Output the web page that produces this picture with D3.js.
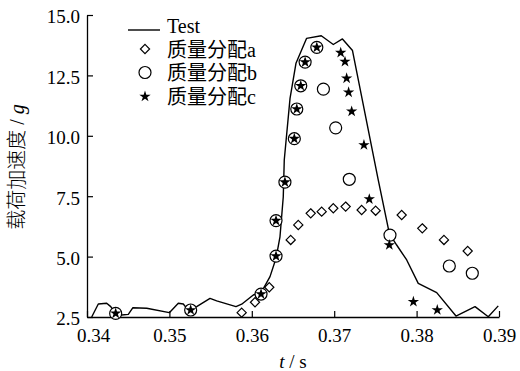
<!DOCTYPE html>
<html>
<head>
<meta charset="utf-8">
<script src="https://cdn.jsdelivr.net/npm/d3@7"></script>
<style>
  html, body { margin: 0; padding: 0; background: #fff; }
  svg { display: block; }
  text { fill: #000; }
</style>
</head>
<body>
<svg id="chart" width="520" height="371"></svg>
<script>
// Measured load acceleration (Test) over time
const testT = [0.34057, 0.34137, 0.34239, 0.34288, 0.34348, 0.34421, 0.34501, 0.34555, 0.34725, 0.34999,
  0.35108, 0.35169, 0.35201, 0.35258, 0.35331, 0.35493, 0.35574, 0.35808, 0.35877, 0.36018,
  0.36120, 0.36221, 0.36294, 0.36342, 0.36382, 0.36394, 0.36464, 0.36536, 0.36664, 0.36843,
  0.36989, 0.37100, 0.37222, 0.37535, 0.37669, 0.37758, 0.37880, 0.38020, 0.38244, 0.38478,
  0.38709, 0.38870, 0.38991];
const testG = [2.50, 3.04, 3.07, 2.93, 2.65, 2.58, 2.61, 2.88, 2.86, 2.68,
  3.07, 3.04, 2.90, 2.79, 2.93, 3.27, 3.17, 2.93, 3.03, 3.41,
  3.55, 4.17, 4.93, 5.82, 7.48, 9.00, 11.55, 13.00, 14.03, 14.14,
  13.78, 14.01, 13.53, 8.17, 5.96, 5.48, 4.86, 3.89, 3.51, 2.54,
  2.93, 2.51, 2.96];

// Mass distribution a
const aT = [0.35877, 0.36039, 0.36212, 0.36472, 0.36564, 0.36715, 0.36848, 0.36989, 0.37139, 0.37333,
  0.37503, 0.37819, 0.38069, 0.38332, 0.38620];
const aG = [2.68, 3.11, 3.73, 5.69, 6.31, 6.79, 6.86, 7.00, 7.07, 6.93,
  6.90, 6.72, 6.17, 5.69, 5.23];

// Mass distribution b
const bT = [0.34348, 0.35258, 0.36112, 0.36294, 0.36294, 0.36402, 0.36516, 0.36546, 0.36594, 0.36647,
  0.36789, 0.36869, 0.37018, 0.37183, 0.37677, 0.38397, 0.38676];
const bG = [2.65, 2.79, 3.45, 5.02, 6.49, 8.08, 9.88, 11.11, 12.07, 13.05,
  13.66, 11.93, 10.33, 8.20, 5.89, 4.61, 4.31];

// Mass distribution c
const cT = [0.34348, 0.35258, 0.36112, 0.36294, 0.36294, 0.36402, 0.36516, 0.36546, 0.36594, 0.36647,
  0.36789, 0.37079, 0.37131, 0.37151, 0.37175, 0.37212, 0.37361, 0.37426, 0.37669, 0.37961, 0.38251];
const cG = [2.65, 2.79, 3.45, 5.02, 6.49, 8.08, 9.88, 11.11, 12.07, 13.05,
  13.66, 13.44, 13.07, 12.38, 11.80, 11.01, 9.62, 7.38, 5.48, 3.13, 2.79];

const xTicks = [0.34, 0.35, 0.36, 0.37, 0.38, 0.39];
const yTicks = [2.5, 5.0, 7.5, 10.0, 12.5, 15.0];
const legendLabels = ["Test", "质量分配a", "质量分配b", "质量分配c"];

const latin = "'Liberation Serif', 'Times New Roman', serif";
const mixed = "'Liberation Serif', 'Noto Sans CJK SC', serif";

const svg = d3.select("#chart");
const x = d3.scaleLinear().domain([0.34, 0.39]).range([87, 499]);
const y = d3.scaleLinear().domain([2.5, 15]).range([317, 15]);

// Axes with inward ticks
const xAxis = d3.axisBottom(x).tickValues(xTicks).tickFormat(d3.format(".2f"))
  .tickSizeInner(-6).tickSizeOuter(0).tickPadding(12);
const yAxis = d3.axisLeft(y).tickValues(yTicks).tickFormat(d3.format(".1f"))
  .tickSizeInner(-6).tickSizeOuter(0).tickPadding(7);

const gx = svg.append("g").attr("transform", "translate(0,317)").call(xAxis);
const gy = svg.append("g").attr("transform", "translate(87,0)").call(yAxis);

[gx, gy].forEach(g => {
  g.selectAll("path.domain").attr("stroke", "#000").attr("stroke-width", 1.3);
  g.selectAll(".tick line").attr("stroke", "#000").attr("stroke-width", 1.2);
  g.selectAll(".tick text").attr("font-family", latin).attr("font-size", 19).attr("fill", "#000");
});
gx.selectAll(".tick text").attr("dy", "0.71em");
gx.selectAll(".tick text").filter(d => d === 0.34).attr("dx", 6);
gy.selectAll(".tick text").attr("dy", "0.42em");

// Axis titles
const xt = svg.append("text").attr("x", 293).attr("y", 368).attr("text-anchor", "middle")
  .attr("font-family", latin).attr("font-size", 19);
xt.append("tspan").attr("font-style", "italic").text("t");
xt.append("tspan").text(" / s");

const yt = svg.append("text").attr("transform", "translate(24,167) rotate(-90)")
  .attr("text-anchor", "middle").attr("font-family", mixed).attr("font-size", 20);
yt.append("tspan").attr("font-family", "'Noto Sans CJK SC', sans-serif").attr("font-weight", 300).text("载荷加速度");
yt.append("tspan").text(" / ");
yt.append("tspan").attr("font-style", "italic").text("g");

// Test curve
const testData = testT.map((t, i) => [t, testG[i]]);
svg.append("path").datum(testData)
  .attr("fill", "none").attr("stroke", "#000").attr("stroke-width", 1.4).attr("stroke-linejoin", "round")
  .attr("d", d3.line().x(d => x(d[0])).y(d => y(d[1])));

// Marker shapes
const diamondPath = "M0,-4.6L4.6,0L0,4.6L-4.6,0Z";
const starPath = d3.symbol().type(d3.symbolStar).size(40)();

const aData = aT.map((t, i) => [t, aG[i]]);
const bData = bT.map((t, i) => [t, bG[i]]);
const cData = cT.map((t, i) => [t, cG[i]]);

svg.append("g").selectAll("path").data(aData).join("path")
  .attr("transform", d => `translate(${x(d[0])},${y(d[1])})`)
  .attr("d", diamondPath).attr("fill", "#fff").attr("stroke", "#000").attr("stroke-width", 1.2);

svg.append("g").selectAll("circle").data(bData).join("circle")
  .attr("cx", d => x(d[0])).attr("cy", d => y(d[1])).attr("r", 6)
  .attr("fill", "#fff").attr("stroke", "#000").attr("stroke-width", 1.2);

svg.append("g").selectAll("path").data(cData).join("path")
  .attr("transform", d => `translate(${x(d[0])},${y(d[1])})`)
  .attr("d", starPath).attr("fill", "#000");

// Legend
const lg = svg.append("g");
lg.append("line").attr("x1", 128).attr("x2", 160).attr("y1", 30).attr("y2", 30)
  .attr("stroke", "#000").attr("stroke-width", 1.4);
lg.append("path").attr("transform", "translate(145,49)").attr("d", diamondPath)
  .attr("fill", "#fff").attr("stroke", "#000").attr("stroke-width", 1.2);
lg.append("circle").attr("cx", 145).attr("cy", 72.5).attr("r", 6)
  .attr("fill", "#fff").attr("stroke", "#000").attr("stroke-width", 1.2);
lg.append("path").attr("transform", "translate(145,96.5)").attr("d", starPath).attr("fill", "#000");

const baselines = [33, 56.5, 80, 103.5];
lg.selectAll("text.lab").data(legendLabels).join("text").attr("class", "lab")
  .attr("x", 167).attr("y", (d, i) => baselines[i])
  .attr("font-family", mixed).attr("font-size", 20).text(d => d);
</script>
</body>
</html>
